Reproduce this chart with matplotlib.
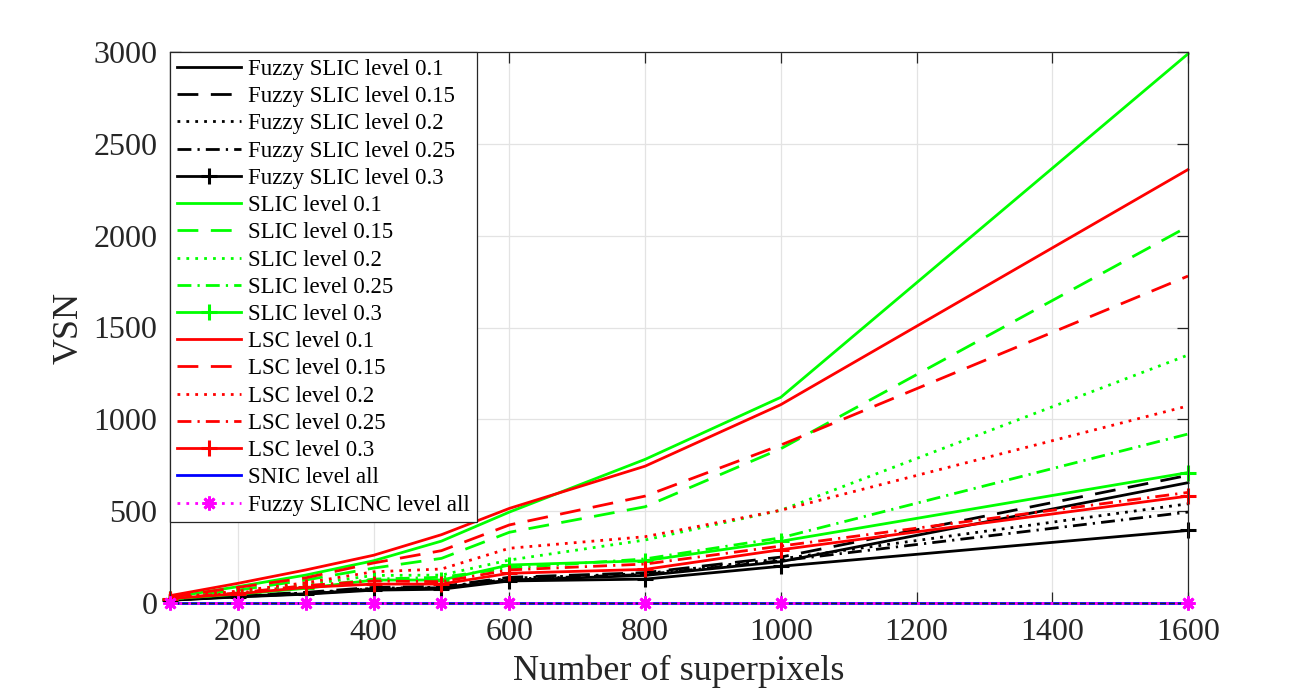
import matplotlib
matplotlib.use("Agg")
import matplotlib.pyplot as plt

x = [100, 200, 300, 400, 500, 600, 800, 1000, 1600]

fuzzy_01  = [15, 35, 50, 75, 80, 125, 150, 225, 655]
fuzzy_015 = [18, 40, 58, 85, 90, 140, 165, 250, 695]
fuzzy_02  = [17, 38, 55, 80, 86, 135, 160, 240, 540]
fuzzy_025 = [16, 36, 52, 78, 83, 130, 155, 230, 495]
fuzzy_03  = [15, 33, 48, 70, 75, 120, 130, 200, 395]

slic_01  = [30, 89, 152, 230, 337, 495, 782, 1120, 2990]
slic_015 = [26, 70, 125, 190, 243, 385, 524, 840, 2050]
slic_02  = [24, 58, 100, 150, 152, 234, 343, 505, 1350]
slic_025 = [22, 50, 85, 130, 140, 190, 240, 355, 920]
slic_03  = [22, 48, 80, 125, 125, 207, 230, 336, 710]

lsc_01  = [40, 107, 180, 260, 372, 515, 745, 1080, 2360]
lsc_015 = [33, 85, 137, 218, 285, 425, 582, 860, 1780]
lsc_02  = [28, 65, 110, 170, 185, 298, 361, 505, 1073]
lsc_025 = [25, 55, 95, 120, 116, 180, 212, 310, 602]
lsc_03  = [24, 50, 85, 103, 103, 162, 183, 290, 582]

snic_all = [0, 0, 0, 0, 0, 0, 0, 0, 0]
fuzzy_slicnc_all = [0, 0, 0, 0, 0, 0, 0, 0, 0]

labels = ["Fuzzy SLIC level 0.1", "Fuzzy SLIC level 0.15", "Fuzzy SLIC level 0.2",
          "Fuzzy SLIC level 0.25", "Fuzzy SLIC level 0.3",
          "SLIC level 0.1", "SLIC level 0.15", "SLIC level 0.2",
          "SLIC level 0.25", "SLIC level 0.3",
          "LSC level 0.1", "LSC level 0.15", "LSC level 0.2",
          "LSC level 0.25", "LSC level 0.3",
          "SNIC level all", "Fuzzy SLICNC level all"]
xticks = [200, 400, 600, 800, 1000, 1200, 1400, 1600]
yticks = [0, 500, 1000, 1500, 2000, 2500, 3000]

plt.rcParams['font.family'] = ['Liberation Serif', 'DejaVu Serif']

fig = plt.figure(figsize=(13.13, 6.96), dpi=100)
ax = fig.add_axes([170/1313, 1-603/696, (1188-170)/1313, (603-52)/696])

lw = 2.0
dash = (0, (7.5, 4.5))
dot = (0, (1, 2.2))
dashdot = (0, (5, 2.2, 0.8, 2.2))
styles = [
    (fuzzy_01, 'k', '-', None), (fuzzy_015, 'k', dash, None),
    (fuzzy_02, 'k', dot, None), (fuzzy_025, 'k', dashdot, None),
    (fuzzy_03, 'k', '-', '+'),
    (slic_01, '#00ff00', '-', None), (slic_015, '#00ff00', dash, None),
    (slic_02, '#00ff00', dot, None), (slic_025, '#00ff00', dashdot, None),
    (slic_03, '#00ff00', '-', '+'),
    (lsc_01, '#ff0000', '-', None), (lsc_015, '#ff0000', dash, None),
    (lsc_02, '#ff0000', dot, None), (lsc_025, '#ff0000', dashdot, None),
    (lsc_03, '#ff0000', '-', '+'),
]
for (vals, c, ls, mk), lab in zip(styles, labels):
    ax.plot(x, vals, color=c, linestyle=ls, linewidth=lw, marker=mk,
            markersize=11, markeredgewidth=2.2, label=lab, clip_on=False)

ax.plot(x, snic_all, color='#0000ff', linestyle='-', linewidth=lw,
        label=labels[15], clip_on=False)
ax.plot(x, fuzzy_slicnc_all, color='#ff00ff', linestyle=dot, linewidth=lw,
        marker=(8, 2, 0), markersize=10, markeredgewidth=2.0,
        label=labels[16], clip_on=False, zorder=5)

ax.set_xlim(100, 1600)
ax.set_ylim(0, 3000)
ax.set_xticks(xticks)
ax.set_yticks(yticks)
ax.grid(True, color='#e3e3e3', linewidth=0.9)
ax.set_axisbelow(True)
for s in ax.spines.values():
    s.set_color('#262626')
    s.set_linewidth(0.9)
ax.tick_params(direction='in', length=8, width=0.9, colors='#262626',
               labelsize=23, top=True, right=True, pad=9)
ax.tick_params(axis='x', pad=11)

ax.set_xlabel("Number of superpixels", fontsize=26, color='#262626', labelpad=5)
ax.set_ylabel("VSN", fontsize=26, color='#262626', labelpad=6)

leg = ax.legend(loc='upper left', fontsize=16.5, frameon=True, fancybox=False,
                edgecolor='#262626', borderaxespad=0.0, handlelength=2.8,
                handletextpad=0.3, labelspacing=0.27, borderpad=0.3)
leg.get_frame().set_linewidth(0.9)
leg.get_frame().set_alpha(1)

fig.savefig("out.png", dpi=100, facecolor='white')
